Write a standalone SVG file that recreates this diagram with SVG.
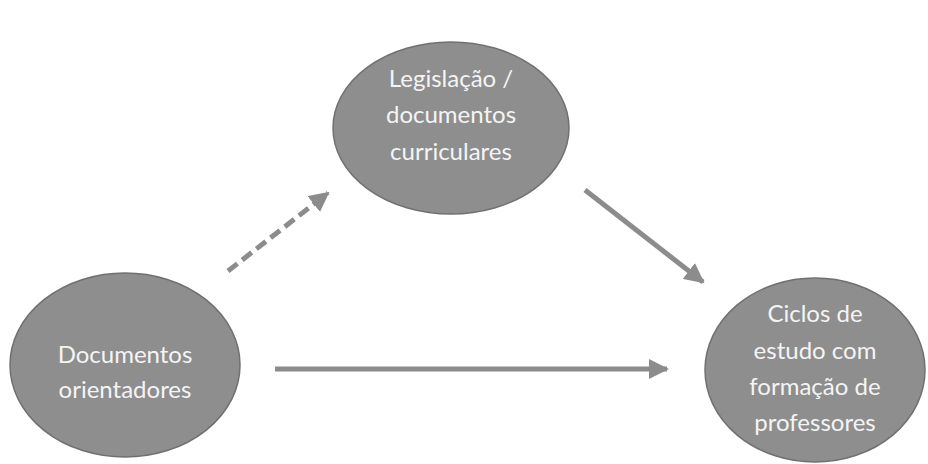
<svg xmlns="http://www.w3.org/2000/svg" width="928" height="464" viewBox="0 0 928 464">
<style>
.node{fill:#8e8e8e;stroke:#707070;stroke-width:1.5}
.lbl{font-family:Lato,"Open Sans","Liberation Sans",sans-serif;font-size:24px;fill:#f4f4f4;text-anchor:middle;dominant-baseline:central}
.con{stroke:#8c8c8c;stroke-width:5;fill:none}
</style>
<defs>
<marker id="ah" viewBox="0 0 10 10" refX="9" refY="5" markerWidth="4" markerHeight="4" markerUnits="strokeWidth" orient="auto">
<path d="M0,0 L10,5 L0,10 Z" fill="#8c8c8c"/>
</marker>
</defs>
<rect width="928" height="464" fill="#ffffff"/>
<g id="connectors">
<path class="con" d="M228,271 L328,193" stroke-dasharray="12,6" marker-end="url(#ah)"/>
<path class="con" d="M585,190 L703,282" marker-end="url(#ah)"/>
<path class="con" d="M275,369 L667,369" marker-end="url(#ah)"/>
</g>
<g id="node-legislacao">
<ellipse class="node" cx="451" cy="128" rx="118" ry="86"/>
<text class="lbl" x="451" y="77">Legislação /</text>
<text class="lbl" x="451" y="113">documentos</text>
<text class="lbl" x="451" y="150">curriculares</text>
</g>
<g id="node-documentos">
<ellipse class="node" cx="125" cy="365" rx="115" ry="92"/>
<text class="lbl" x="125" y="353">Documentos</text>
<text class="lbl" x="125" y="388">orientadores</text>
</g>
<g id="node-ciclos">
<ellipse class="node" cx="815" cy="370" rx="110" ry="92"/>
<text class="lbl" x="815" y="312">Ciclos de</text>
<text class="lbl" x="815" y="349">estudo com</text>
<text class="lbl" x="815" y="385">formação de</text>
<text class="lbl" x="815" y="421">professores</text>
</g>
</svg>
